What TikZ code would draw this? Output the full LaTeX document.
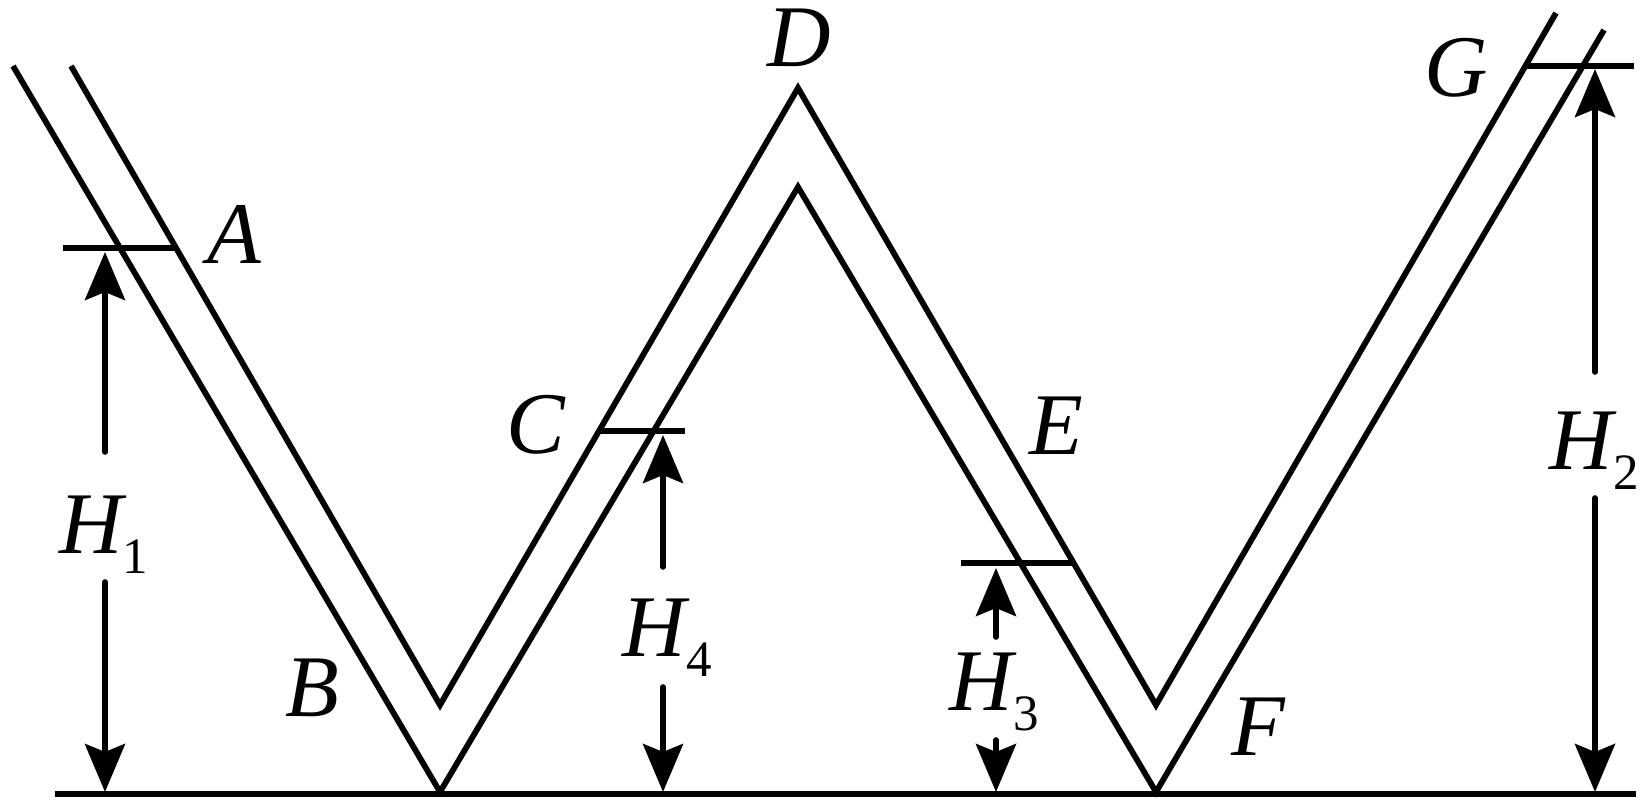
\documentclass[tikz,border=0pt]{standalone}
\usepackage{fontspec}
\setmainfont{Liberation Serif}
\usetikzlibrary{arrows.meta}
\newcommand{\hlabel}[1]{\textit{H}\raisebox{-0.2cm}{\fontsize{14.5}{14.5}\selectfont\upshape #1}}
\tikzset{
  tube/.style={line width=1.65pt},
  level/.style={line width=1.6pt},
  dim/.style={line width=1.6pt,line cap=round,-{Stealth[length=0.48cm,width=0.40cm,inset=0.08cm]}},
  lbl/.style={inner sep=0,anchor=base,font=\fontsize{25}{25}\selectfont\itshape}
}
\begin{document}
\begin{tikzpicture}[x=0.01cm,y=-0.01cm]
    \useasboundingbox (0,0) rectangle (1645,806);
    %% Draw the points of the two walls
    \coordinate (o1) at (13,66);
    \coordinate (o2) at (440,792);
    \coordinate (o3) at (798,187);
    \coordinate (o4) at (1156,792);
    \coordinate (o5) at (1604,30);
    \coordinate (i1) at (71,66);
    \coordinate (i2) at (440,705);
    \coordinate (i3) at (798,88);
    \coordinate (i4) at (1156,705);
    \coordinate (i5) at (1556,13);
    %% Draw the ends of the level lines
    \coordinate (g1) at (55,794);
    \coordinate (g2) at (1636,794);
    \coordinate (a1) at (63,248);
    \coordinate (a2) at (175,248);
    \coordinate (c1) at (598,431);
    \coordinate (c2) at (685,431);
    \coordinate (e1) at (961,563);
    \coordinate (e2) at (1072,563);
    \coordinate (t1) at (1527,66);
    \coordinate (t2) at (1634,66);
    %% Draw the ends of the height arrows
    \coordinate (h1a) at (105,452);
    \coordinate (h1b) at (105,252);
    \coordinate (h1c) at (105,582);
    \coordinate (h1d) at (105,792);
    \coordinate (h2a) at (1595,372);
    \coordinate (h2b) at (1595,69);
    \coordinate (h2c) at (1595,498);
    \coordinate (h2d) at (1595,792);
    \coordinate (h4a) at (663,567);
    \coordinate (h4b) at (663,435);
    \coordinate (h4c) at (663,687);
    \coordinate (h4d) at (663,792);
    \coordinate (h3a) at (996,637);
    \coordinate (h3b) at (996,568);
    \coordinate (h3c) at (996,740);
    \coordinate (h3d) at (996,792);
    %% Draw the labels
    \node[lbl] (A) at (234,263) {A};
    \node[lbl] (B) at (312,716) {B};
    \node[lbl] (C) at (536,453) {C};
    \node[lbl] (D) at (799,66) {D};
    \node[lbl] (E) at (1056,454) {E};
    \node[lbl] (F) at (1258,755) {F};
    \node[lbl] (G) at (1456,97) {G};
    \node[lbl] (H1) at (104,553) {\hlabel{1}};
    \node[lbl] (H2) at (1594,469) {\hlabel{2}};
    \node[lbl] (H3) at (994,710) {\hlabel{3}};
    \node[lbl] (H4) at (667,656) {\hlabel{4}};
    %% Draw the walls
    \draw[tube] (o1) -- (o2) -- (o3) -- (o4) -- (o5);
    \draw[tube] (i1) -- (i2) -- (i3) -- (i4) -- (i5);
    %% Draw the levels
    \begin{scope}[every path/.style={level}]
      \draw (g1) -- (g2);
      \draw (a1) -- (a2);
      \draw (c1) -- (c2);
      \draw (e1) -- (e2);
      \draw (t1) -- (t2);
    \end{scope}
    %% Draw the heights
    \begin{scope}[every path/.style={dim}]
      \draw (h1a) -- (h1b);
      \draw (h1c) -- (h1d);
      \draw (h2a) -- (h2b);
      \draw (h2c) -- (h2d);
      \draw (h3a) -- (h3b);
      \draw (h3c) -- (h3d);
      \draw (h4a) -- (h4b);
      \draw (h4c) -- (h4d);
    \end{scope}
  \end{tikzpicture}
\end{document}
